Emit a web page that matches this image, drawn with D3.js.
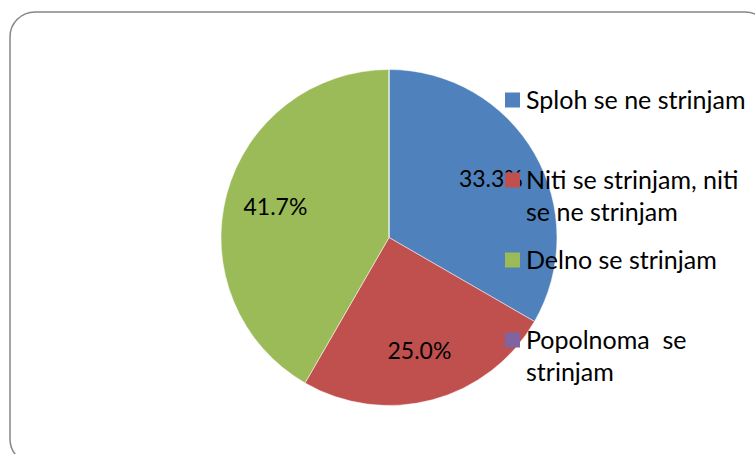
<!DOCTYPE html>
<html>
<head>
<meta charset="utf-8">
<script src="https://cdn.jsdelivr.net/npm/d3@7"></script>
<style>
	body { margin: 0; background: #fff; }
	text { font-family: Lato, "Open Sans", sans-serif; }
</style>
</head>
<body>
<svg id="chart"></svg>
<script>
const svgWidth = 755;
const svgHeight = 454;

// answers (legend lines) and counts per answer
const categories = [
	["Sploh se ne strinjam"],
	["Niti se strinjam, niti", "se ne strinjam"],
	["Delno se strinjam"],
	["Popolnoma  se", "strinjam"]
];
const counts = [4, 3, 5, 0];
const colors = ["#4F81BD", "#C0504D", "#9BBB59", "#8064A2"];

const cx = 389, cy = 237.5, radius = 168;

const svg = d3.select("#chart")
				.attr("width", svgWidth)
				.attr("height", svgHeight);

// chart area frame
svg.append("rect")
	.attr("x", 10)
	.attr("y", 12)
	.attr("width", 760)
	.attr("height", 452)
	.attr("rx", 25)
	.attr("fill", "none")
	.attr("stroke", "#868686")
	.attr("stroke-width", 1.5);

const total = d3.sum(counts);
const pie = d3.pie().sort(null).value(d => d);
const arcs = pie(counts);
const arc = d3.arc().innerRadius(0).outerRadius(radius);
const labelArc = d3.arc().innerRadius(radius * 0.7).outerRadius(radius * 0.7);

const g = svg.append("g").attr("transform", `translate(${cx}, ${cy})`);

g.selectAll("path")
	.data(arcs)
	.enter()
	.append("path")
		.attr("d", arc)
		.attr("fill", (d, i) => colors[i])
		.attr("stroke", "#fff")
		.attr("stroke-width", 0.5);

g.selectAll("text")
	.data(arcs.filter(d => d.value > 0))
	.enter()
	.append("text")
		.attr("transform", d => `translate(${labelArc.centroid(d)})`)
		.attr("text-anchor", "middle")
		.attr("dy", "0.35em")
		.attr("font-size", 23)
		.attr("fill", "#000")
		.text(d => d3.format(".1%")(d.value / total));

// legend
const legendY = d3.scalePoint()
					.domain(d3.range(categories.length))
					.range([100, 340]);

const legend = svg.append("g")
				.selectAll("g")
				.data(categories)
				.enter()
				.append("g")
				.attr("transform", (d, i) => `translate(505, ${legendY(i)})`);

legend.append("rect")
	.attr("x", 0)
	.attr("y", -7.5)
	.attr("width", 15)
	.attr("height", 15)
	.attr("fill", (d, i) => colors[i]);

legend.append("text")
	.attr("x", 21)
	.attr("y", 0)
	.attr("font-size", 25)
	.attr("fill", "#000")
	.style("white-space", "pre")
	.selectAll("tspan")
	.data(d => d)
	.enter()
	.append("tspan")
		.attr("x", 21)
		.attr("dy", (d, i) => i === 0 ? "0.35em" : "32px")
		.text(d => d);
</script>
</body>
</html>
